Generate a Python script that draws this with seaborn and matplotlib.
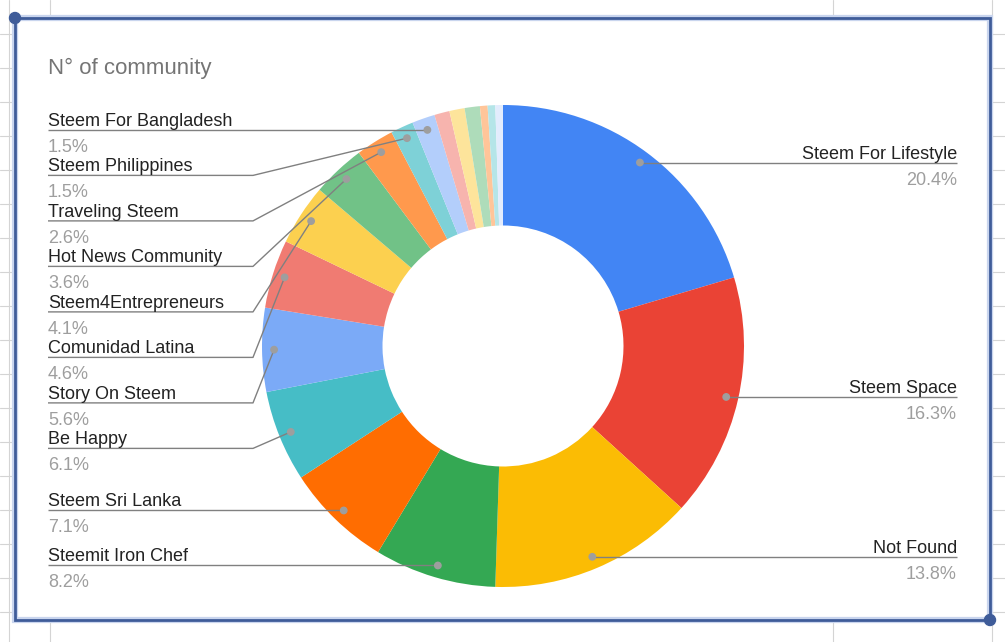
import numpy as np
import matplotlib
matplotlib.use("Agg")
import matplotlib.pyplot as plt
import seaborn as sns
from matplotlib.patches import Rectangle, Circle

# ---------------- data ----------------
title = "N° of community"
communities = [
    "Steem For Lifestyle", "Steem Space", "Not Found", "Steemit Iron Chef",
    "Steem Sri Lanka", "Be Happy", "Story On Steem", "Comunidad Latina",
    "Steem4Entrepreneurs", "Hot News Community", "Traveling Steem",
    "Steem Philippines", "Steem For Bangladesh",
    "Other 1", "Other 2", "Other 3", "Other 4", "Other 5", "Other 6",
]
counts = [40, 32, 27, 16, 14, 12, 11, 9, 8, 7, 5, 3, 3, 2, 2, 2, 1, 1, 1]
labelled = [True] * 13 + [False] * 6
slice_colors = [
    "#4285f4", "#ea4335", "#fbbc04", "#34a853", "#ff6d01", "#46bdc6",
    "#7baaf7", "#f07b72", "#fcd04f", "#71c287", "#ff994d", "#7ed1d7",
    "#b3cefb", "#f7b4ae", "#fde49b", "#aedcba", "#ffc599", "#b5e5e8",
    "#e3ecfd",
]

# ---------------- style ----------------
sns.set_theme(style="white")
plt.rcParams["font.family"] = ["Liberation Sans", "DejaVu Sans"]
palette = sns.color_palette(slice_colors)

W, H = 1005, 642
fig = plt.figure(figsize=(W / 100, H / 100), dpi=100)
fig.patch.set_facecolor("white")
ax = fig.add_axes([0, 0, 1, 1])


def Y(y):  # top-origin pixel -> axis y
    return H - y


# spreadsheet grid behind the chart
grid_c = "#d4d4d4"
for gx in (9, 50, 833, 992):
    ax.plot([gx, gx], [0, H], color=grid_c, lw=0.8, zorder=0)
gy = 33.5
while gy < H:
    ax.plot([0, W], [Y(gy), Y(gy)], color=grid_c, lw=0.8, zorder=0)
    gy += 34

# chart area + selection border
L, T, R, B = 15, 18, 990, 620
ax.add_patch(Rectangle((L, Y(B)), R - L, B - T, facecolor="white",
                       edgecolor="#c9d5ee", lw=4.5, zorder=1))
ax.add_patch(Rectangle((L, Y(B)), R - L, B - T, facecolor="none",
                       edgecolor="#3f5c99", lw=2.0, zorder=2))
for cx, cy in ((L, T), (R, B)):
    ax.add_patch(Circle((cx, Y(cy)), 5.5, color="#3f5c99", zorder=3))

# ---------------- donut ----------------
cx, cy, rad = 503, 346, 241
total = sum(counts)
wedges, _ = ax.pie(counts, colors=palette, startangle=90, counterclock=False,
                   radius=rad, center=(cx, Y(cy)),
                   wedgeprops=dict(width=rad * 0.5, linewidth=0),
                   frame=True)
for w in wedges:
    w.set_zorder(4)

ax.text(48, Y(68), title, fontsize=16, color="#757575", va="center",
        ha="left", zorder=6)

# ---------------- labels ----------------
line_c = "#808080"
gap = 45.5
items = []
for w, name, n, lab in zip(wedges, communities, counts, labelled):
    if not lab:
        continue
    mid = np.deg2rad((w.theta1 + w.theta2) / 2)
    dx = cx + 0.95 * rad * np.cos(mid)
    dy = cy - 0.95 * rad * np.sin(mid)
    side = "right" if dx > cx else "left"
    items.append(dict(name=name, pct=f"{100 * n / total:.1f}%", dx=dx,
                      dy=dy, side=side))

for side in ("left", "right"):
    grp = sorted([it for it in items if it["side"] == side],
                 key=lambda d: d["dy"])
    prev = -1e9
    for it in grp:
        ly = max(it["dy"], prev + gap)
        it["ly"] = ly
        prev = ly

for it in items:
    ly = it["ly"]
    ax.add_patch(Circle((it["dx"], Y(it["dy"])), 3.2, color="#9e9e9e",
                        zorder=7))
    if it["side"] == "left":
        tx, ha = 48, "left"
        elbow = 253
        xs = [tx, elbow, it["dx"]]
        ys = [ly, ly, it["dy"]]
    else:
        tx, ha = 957, "right"
        elbow = 757
        xs = [tx, elbow, it["dx"]] if abs(ly - it["dy"]) > 1 else [tx, it["dx"]]
        ys = [ly, ly, it["dy"]] if abs(ly - it["dy"]) > 1 else [ly, it["dy"]]
    ax.plot(xs, [Y(v) for v in ys], color=line_c, lw=1.0, zorder=6,
            solid_capstyle="butt")
    ax.text(tx, Y(ly - 4), it["name"], fontsize=13, color="#222222",
            ha=ha, va="baseline", zorder=6)
    ax.text(tx, Y(ly + 22), it["pct"], fontsize=13, color="#9e9e9e",
            ha=ha, va="baseline", zorder=6)

ax.set_xlim(0, W)
ax.set_ylim(0, H)
ax.set_aspect("equal")
ax.axis("off")

fig.savefig("out.png", dpi=100, facecolor="white")
